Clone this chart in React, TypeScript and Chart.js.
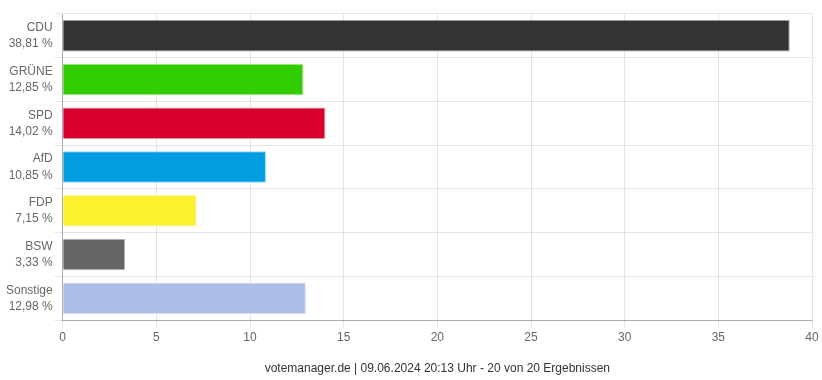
import React, { useEffect, useRef } from "react";
import { Chart, registerables } from "chart.js";

Chart.register(...registerables);

const parties = ["CDU", "GRÜNE", "SPD", "AfD", "FDP", "BSW", "Sonstige"];
const shares = [38.81, 12.85, 14.02, 10.85, 7.15, 3.33, 12.98];
const colors = ["#333333", "#32cd00", "#d7002d", "#009ee0", "#fdf02f", "#656565", "#aabee6"];
const borders = ["#9a9a9a", "#a0e880", "#ee90a4", "#90d4f2", "#fef8a8", "#b5b5b5", "#d8e2f4"];
const xTicks = [0, 5, 10, 15, 20, 25, 30, 35, 40];
const title = "votemanager.de | 09.06.2024 20:13 Uhr - 20 von 20 Ergebnissen";

const fmt = (v: number) => v.toFixed(2).replace(".", ",") + " %";

export default function App() {
  const ref = useRef<HTMLCanvasElement | null>(null);
  useEffect(() => {
    if (!ref.current) return;
    const font = { family: "'Liberation Sans', Arial, sans-serif", size: 12 };
    const chart = new Chart(ref.current, {
      type: "bar",
      data: {
        labels: parties.map((p, i) => [p, fmt(shares[i])]),
        datasets: [
          {
            data: shares,
            backgroundColor: colors,
            borderColor: borders,
            borderWidth: 1,
          },
        ],
      },
      options: {
        indexAxis: "y",
        animation: false,
        responsive: false,
        maintainAspectRatio: false,
        layout: { padding: { top: 14, right: 10, left: 4, bottom: 4 } },
        plugins: {
          legend: { display: false },
          tooltip: { enabled: false },
        },
        scales: {
          x: {
            min: 0,
            max: 40,
            afterBuildTicks: (axis: any) => {
              axis.ticks = xTicks.map((v) => ({ value: v }));
            },
            ticks: { color: "#666", font, padding: 2 },
            grid: { color: "rgba(0,0,0,0.1)", tickLength: 8 },
            border: { color: "rgba(0,0,0,0.25)" },
            title: {
              display: true,
              text: title,
              color: "#333",
              font,
              padding: { top: 15, bottom: 0 },
            },
          },
          y: {
            afterFit: (axis: any) => {
              axis.paddingTop = 0;
              axis.paddingBottom = 0;
            },
            ticks: { color: "#666", font: { ...font, lineHeight: 1.35 }, padding: 2 },
            grid: { color: "rgba(0,0,0,0.1)", tickLength: 8, offset: true },
            border: { color: "rgba(0,0,0,0.25)" },
          },
        },
      },
    });
    return () => chart.destroy();
  }, []);
  return (
    <div style={{ position: "fixed", left: 0, top: 0, width: 822, height: 380 }}>
      <canvas ref={ref} width={822} height={380} style={{ width: 822, height: 380 }} />
    </div>
  );
}
